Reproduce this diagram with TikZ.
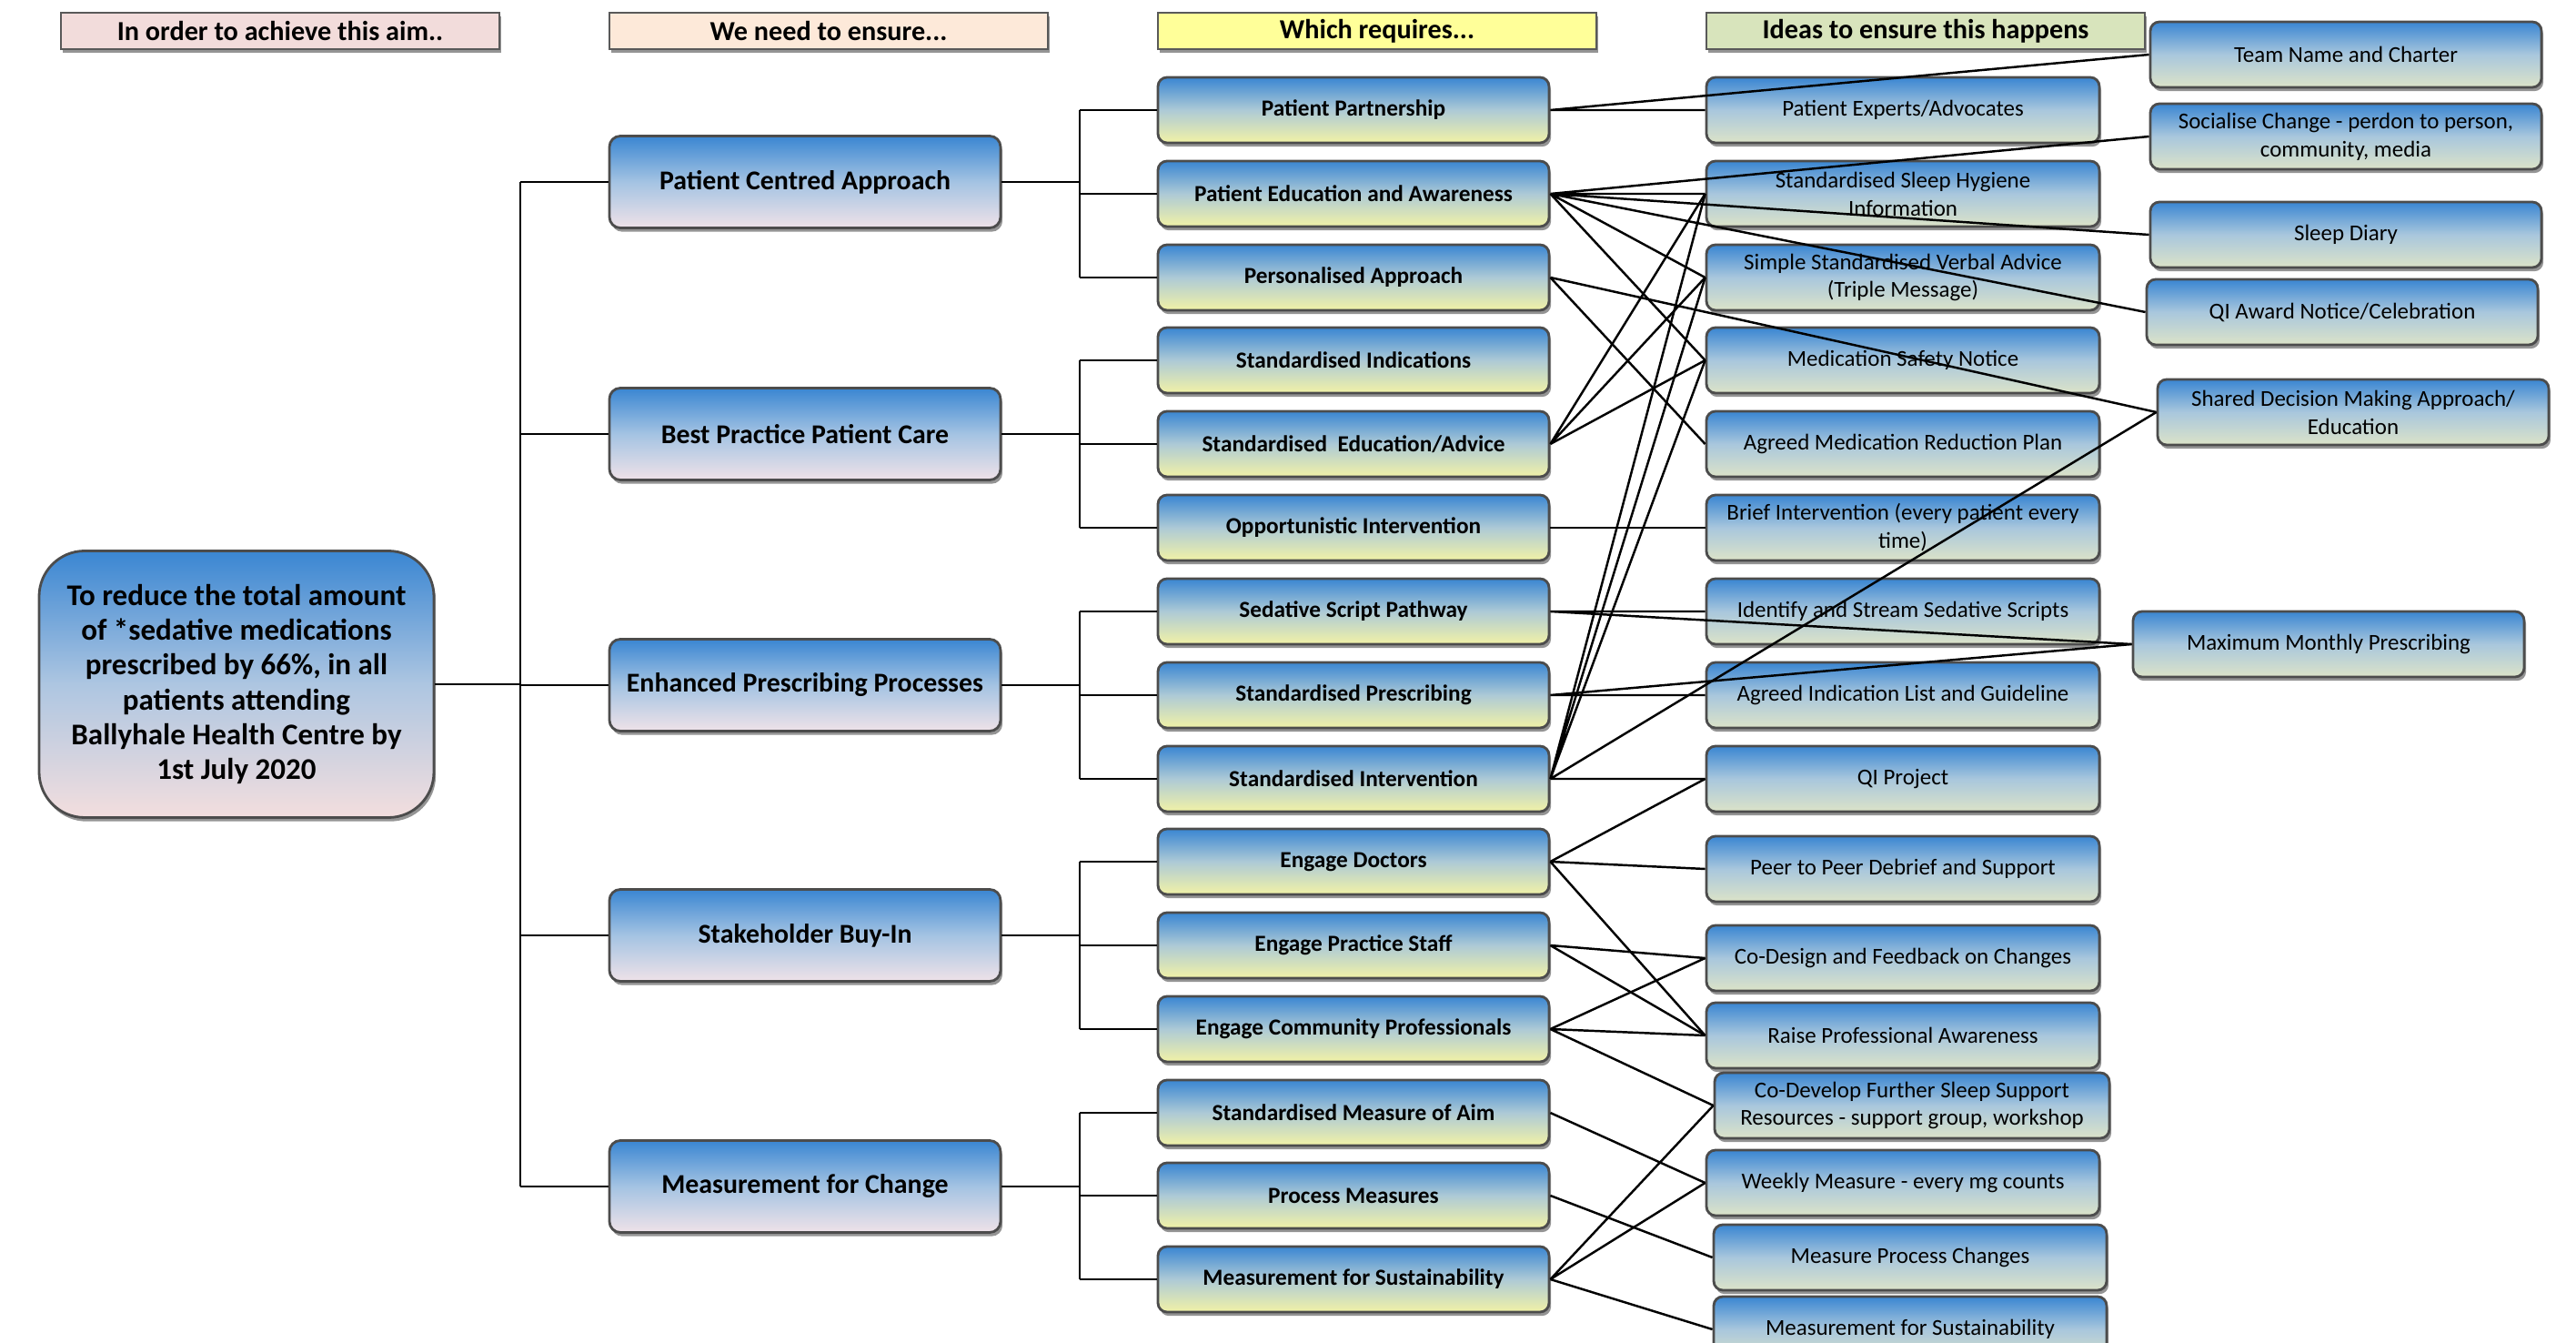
\documentclass[tikz,border=0pt]{standalone}
\usepackage{fontspec}
\setmainfont{Carlito}
\usepackage{xcolor}
\usetikzlibrary{positioning,shadows}

\definecolor{boxblue}{HTML}{3A86D2}
\definecolor{midblue}{HTML}{9CC0E2}
\definecolor{aimpink}{HTML}{F3DEDE}
\definecolor{primpink}{HTML}{EFE2E8}
\definecolor{secyellow}{HTML}{F2F2A6}
\definecolor{ideagreen}{HTML}{DCE3C8}
\definecolor{headpink}{HTML}{F2DCDB}
\definecolor{headpeach}{HTML}{FDE9D9}
\definecolor{headyellow}{HTML}{FFFF99}
\definecolor{headgreen}{HTML}{D8E4BC}

\begin{document}
\begin{tikzpicture}[
  shade/.style={drop shadow={shadow xshift=0.6pt, shadow yshift=-1.2pt, fill=black!70, opacity=0.6}},
  head/.style={rectangle, draw=black!65, line width=0.8pt, minimum width=4.82cm, minimum height=0.40cm, inner sep=1pt, font=\fontsize{8.6}{10}\selectfont\bfseries, shade},
  aimbox/.style={rectangle, rounded corners=0.5cm, draw=black!70, line width=0.8pt, top color=boxblue, bottom color=aimpink, middle color=midblue!80!aimpink, minimum width=4.34cm, minimum height=2.93cm, align=center, font=\fontsize{9.4}{10.9}\selectfont\bfseries, shade},
  primary/.style={rectangle, rounded corners=0.12cm, draw=black!70, line width=0.8pt, top color=boxblue, bottom color=primpink, middle color=midblue!90!primpink, minimum width=4.30cm, minimum height=1.01cm, inner sep=1pt, font=\fontsize{8.5}{10}\selectfont\bfseries, shade},
  secondary/.style={rectangle, rounded corners=0.1cm, draw=black!70, line width=0.8pt, top color=boxblue, bottom color=secyellow, middle color=midblue!80!secyellow, minimum width=4.30cm, minimum height=0.72cm, inner sep=1pt, font=\fontsize{7.2}{8.5}\selectfont\bfseries, shade},
  idea/.style={rectangle, rounded corners=0.1cm, draw=black!70, line width=0.8pt, top color=boxblue, bottom color=ideagreen, middle color=midblue!80!ideagreen, minimum width=4.32cm, minimum height=0.72cm, inner sep=1pt, align=center, font=\fontsize{7.1}{8.8}\selectfont, shade},
  link/.style={line width=0.7pt}
]

\clip (0,0) rectangle (28.32,-14.76);

% Column headers
\node[head, fill=headpink] (h1) at (3.08,-0.34) {In order to achieve this aim..};
\node[head, fill=headpeach] (h2) at (9.11,-0.34) {We need to ensure...};
\node[head, fill=headyellow] (h3) at (15.14,-0.34) {Which requires...};
\node[head, fill=headgreen] (h4) at (21.17,-0.34) {Ideas to ensure this happens};

% Aim
\node[aimbox] (aim) at (2.60,-7.52) {To reduce the total amount\\of *sedative medications\\prescribed by 66\%, in all\\patients attending\\Ballyhale Health Centre by\\1st July 2020};

% Primary drivers
\node[primary] (pca) at (8.85,-2.00) {Patient Centred Approach};
\node[primary] (bpc) at (8.85,-4.77) {Best Practice Patient Care};
\node[primary] (epp) at (8.85,-7.53) {Enhanced Prescribing Processes};
\node[primary] (sbi) at (8.85,-10.28) {Stakeholder Buy-In};
\node[primary] (mfc) at (8.85,-13.04) {Measurement for Change};

% Secondary drivers
\node[secondary] (pp) at (14.88,-1.21) {Patient Partnership};
\node[secondary] (pea) at (14.88,-2.13) {Patient Education and Awareness};
\node[secondary] (pa) at (14.88,-3.05) {Personalised Approach};
\node[secondary] (sind) at (14.88,-3.96) {Standardised Indications};
\node[secondary] (sea) at (14.88,-4.88) {Standardised\ \ Education/Advice};
\node[secondary] (oi) at (14.88,-5.80) {Opportunistic Intervention};
\node[secondary] (ssp) at (14.88,-6.72) {Sedative Script Pathway};
\node[secondary] (sp) at (14.88,-7.64) {Standardised Prescribing};
\node[secondary] (sint) at (14.88,-8.56) {Standardised Intervention};
\node[secondary] (ed) at (14.88,-9.47) {Engage Doctors};
\node[secondary] (eps) at (14.88,-10.39) {Engage Practice Staff};
\node[secondary] (ecp) at (14.88,-11.31) {Engage Community Professionals};
\node[secondary] (sma) at (14.88,-12.23) {Standardised Measure of Aim};
\node[secondary] (pm) at (14.88,-13.14) {Process Measures};
\node[secondary] (mfs) at (14.88,-14.06) {Measurement for Sustainability};

% Change ideas
\node[idea] (pe) at (20.92,-1.21) {Patient Experts/Advocates};
\node[idea] (shi) at (20.92,-2.13) {Standardised Sleep Hygiene\\Information};
\node[idea] (ssva) at (20.92,-3.05) {Simple Standardised Verbal Advice\\(Triple Message)};
\node[idea] (msn) at (20.92,-3.96) {Medication Safety Notice};
\node[idea] (amrp) at (20.92,-4.88) {Agreed Medication Reduction Plan};
\node[idea] (bi) at (20.92,-5.80) {Brief Intervention (every patient every\\time)};
\node[idea] (iss) at (20.92,-6.72) {Identify and Stream Sedative Scripts};
\node[idea] (ail) at (20.92,-7.64) {Agreed Indication List and Guideline};
\node[idea] (qip) at (20.92,-8.56) {QI Project};
\node[idea] (ppd) at (20.92,-9.55) {Peer to Peer Debrief and Support};
\node[idea] (cdf) at (20.92,-10.53) {Co-Design and Feedback on Changes};
\node[idea] (rpa) at (20.92,-11.38) {Raise Professional Awareness};
\node[idea, minimum width=4.34cm] (cds) at (21.02,-12.15) {Co-Develop Further Sleep Support\\Resources - support group, workshop};
\node[idea] (wm) at (20.92,-13.00) {Weekly Measure - every mg counts};
\node[idea] (mpc) at (21.00,-13.82) {Measure Process Changes};
\node[idea] (msus) at (21.00,-14.61) {Measurement for Sustainability};

% Further ideas
\node[idea, minimum width=4.30cm] (tnc) at (25.79,-0.60) {Team Name and Charter};
\node[idea, minimum width=4.30cm] (sc) at (25.79,-1.50) {Socialise Change - perdon to person,\\community, media};
\node[idea, minimum width=4.30cm] (sd) at (25.79,-2.58) {Sleep Diary};
\node[idea, minimum width=4.30cm] (qia) at (25.75,-3.43) {QI Award Notice/Celebration};
\node[idea, minimum width=4.30cm] (sdm) at (25.87,-4.53) {Shared Decision Making Approach/\\Education};
\node[idea, minimum width=4.30cm] (mmp) at (25.60,-7.08) {Maximum Monthly Prescribing};

% Aim to primary drivers
\coordinate (trunk) at (5.72,-7.52);
\draw[link] (aim.east) -- (trunk);
\draw[link] (trunk |- pca.west) -- (trunk |- mfc.west);
\draw[link] (trunk |- pca.west) -- (pca.west) (trunk |- bpc.west) -- (bpc.west) (trunk |- epp.west) -- (epp.west) (trunk |- sbi.west) -- (sbi.west) (trunk |- mfc.west) -- (mfc.west);

% Primary to secondary drivers
\coordinate (branch) at (11.87,0);
\draw[link] (pca.east) -- (pca.east -| branch) (branch |- pp.west) -- (branch |- pa.west);
\draw[link] (branch |- pp.west) -- (pp.west) (branch |- pea.west) -- (pea.west) (branch |- pa.west) -- (pa.west);
\draw[link] (bpc.east) -- (bpc.east -| branch) (branch |- sind.west) -- (branch |- oi.west);
\draw[link] (branch |- sind.west) -- (sind.west) (branch |- sea.west) -- (sea.west) (branch |- oi.west) -- (oi.west);
\draw[link] (epp.east) -- (epp.east -| branch) (branch |- ssp.west) -- (branch |- sint.west);
\draw[link] (branch |- ssp.west) -- (ssp.west) (branch |- sp.west) -- (sp.west) (branch |- sint.west) -- (sint.west);
\draw[link] (sbi.east) -- (sbi.east -| branch) (branch |- ed.west) -- (branch |- ecp.west);
\draw[link] (branch |- ed.west) -- (ed.west) (branch |- eps.west) -- (eps.west) (branch |- ecp.west) -- (ecp.west);
\draw[link] (mfc.east) -- (mfc.east -| branch) (branch |- sma.west) -- (branch |- mfs.west);
\draw[link] (branch |- sma.west) -- (sma.west) (branch |- pm.west) -- (pm.west) (branch |- mfs.west) -- (mfs.west);

% Secondary drivers to ideas
\draw[link] (pp.east) -- (pe.west) (pp.east) -- (tnc.west);
\draw[link] (pea.east) -- (sc.west) (pea.east) -- (shi.west) (pea.east) -- (sd.west) (pea.east) -- (qia.west) (pea.east) -- (ssva.west) (pea.east) -- (msn.west);
\draw[link] (pa.east) -- (sdm.west) (pa.east) -- (amrp.west);
\draw[link] (sea.east) -- (shi.west) (sea.east) -- (ssva.west) (sea.east) -- (msn.west);
\draw[link] (oi.east) -- (bi.west);
\draw[link] (ssp.east) -- (iss.west) (ssp.east) -- (mmp.west);
\draw[link] (sp.east) -- (ail.west) (sp.east) -- (mmp.west);
\draw[link] (sint.east) -- (shi.west) (sint.east) -- (ssva.west) (sint.east) -- (msn.west) (sint.east) -- (sdm.west) (sint.east) -- (qip.west);
\draw[link] (ed.east) -- (qip.west) (ed.east) -- (ppd.west) (ed.east) -- (rpa.west);
\draw[link] (eps.east) -- (cdf.west) (eps.east) -- (rpa.west);
\draw[link] (ecp.east) -- (cdf.west) (ecp.east) -- (rpa.west) (ecp.east) -- (cds.west);
\draw[link] (sma.east) -- (wm.west);
\draw[link] (pm.east) -- (mpc.west);
\draw[link] (mfs.east) -- (cds.west) (mfs.east) -- (wm.west) (mfs.east) -- (msus.west);

\end{tikzpicture}
\end{document}
